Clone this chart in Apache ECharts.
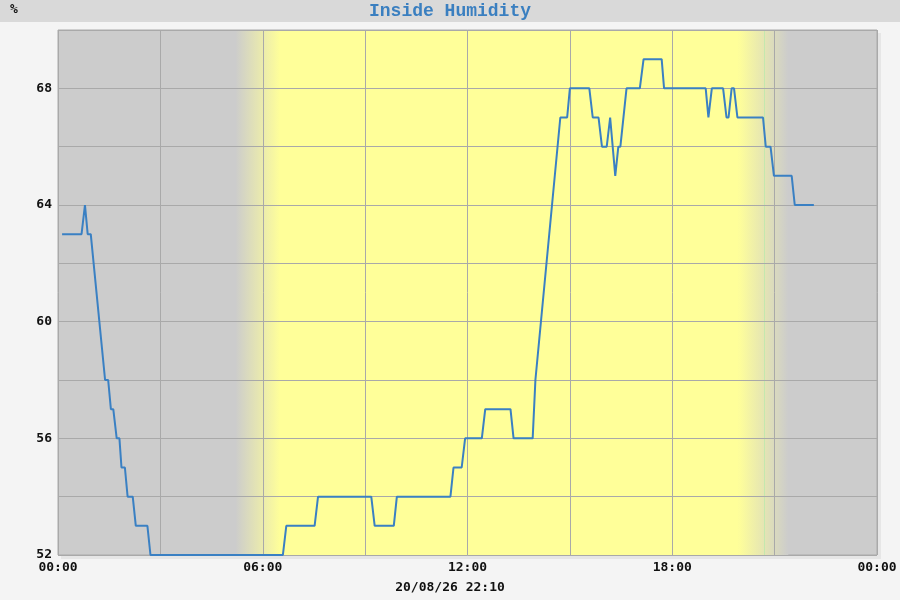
<!DOCTYPE html>
<html>
<head>
<meta charset="utf-8">
<script src="https://cdn.jsdelivr.net/npm/echarts@6/dist/echarts.min.js"></script>
<style>
html,body{margin:0;padding:0;background:#f4f4f4;}
#chart{width:900px;height:600px;}
</style>
</head>
<body>
<div id="chart"></div>
<script>
// time of day in hours
var times = [0.12, 0.69, 0.79, 0.87, 0.96, 1.38, 1.47, 1.55, 1.62, 1.72, 1.80, 1.86, 1.96, 2.04, 2.19, 2.28, 2.62, 2.71,
  6.59, 6.69, 7.52, 7.62, 9.18, 9.28, 9.84, 9.93, 11.50, 11.59, 11.83, 11.93, 12.42, 12.52, 13.26, 13.35, 13.91, 13.99,
  14.72, 14.92, 15.00, 15.57, 15.67, 15.84, 15.94, 16.08, 16.18, 16.33, 16.42, 16.48, 16.66, 17.05, 17.16, 17.69, 17.76,
  18.98, 19.06, 19.16, 19.49, 19.59, 19.65, 19.74, 19.81, 19.91, 20.66, 20.74, 20.88, 20.98, 21.50, 21.59, 22.15];
// humidity in %
var humidity = [63, 63, 64, 63, 63, 58, 58, 57, 57, 56, 56, 55, 55, 54, 54, 53, 53, 52,
  52, 53, 53, 54, 54, 53, 53, 54, 54, 55, 55, 56, 56, 57, 57, 56, 56, 58,
  67, 67, 68, 68, 67, 67, 66, 66, 67, 65, 66, 66, 68, 68, 69, 69, 68,
  68, 67, 68, 68, 67, 67, 68, 68, 67, 67, 66, 66, 65, 65, 64, 64];
// daylight band (hours): fade-in start, full day start, full day end, fade-out end
var dawnStart = 5.2, dayStart = 6.5, dayEnd = 19.95, duskEnd = 21.4;
var sunsetLine = 20.71;
var titleText = 'Inside Humidity';
var unitText = '%';
var footerText = '20/08/26 22:10';

var GRAY = '#cccccc', YELLOW = '#ffff99';
var seriesData = times.map(function (t, i) { return [t, humidity[i]]; });
function pad(n) { return (n < 10 ? '0' : '') + n; }

var chart = echarts.init(document.getElementById('chart'));
chart.setOption({
  backgroundColor: '#f4f4f4',
  animation: false,
  graphic: [
    { type: 'rect', left: 0, top: 0, shape: { width: 900, height: 22 }, style: { fill: '#d9d9d9' }, z: -10 },
    { type: 'rect', left: 61, top: 33, shape: { width: 820, height: 526 }, style: { fill: '#e6e6e6' }, z: -10 },
    { type: 'text', left: 10, top: 3, style: { text: unitText, font: 'bold 13px "DejaVu Sans Mono"', fill: '#111' } },
    { type: 'text', left: 'center', top: 2, style: { text: titleText, font: 'bold 18px "Liberation Mono"', fill: '#3a7fc0' } },
    { type: 'text', left: 'center', top: 581, style: { text: footerText, font: 'bold 13px "DejaVu Sans Mono"', fill: '#111' } }
  ],
  grid: {
    left: 58, right: 23, top: 30, bottom: 45,
    show: true, backgroundColor: GRAY, borderColor: '#aaaaaa', borderWidth: 1
  },
  xAxis: {
    type: 'value', min: 0, max: 24, interval: 3, z: 3,
    axisLine: { show: false }, axisTick: { show: false },
    splitLine: { show: true, lineStyle: { color: '#a9a9a9', width: 1 } },
    axisLabel: {
      margin: 6, color: '#111', fontFamily: 'DejaVu Sans Mono', fontWeight: 'bold', fontSize: 13,
      showMaxLabel: true, showMinLabel: true,
      formatter: function (v) { return v % 6 === 0 ? pad(v % 24) + ':00' : ''; }
    }
  },
  yAxis: {
    type: 'value', min: 52, max: 70, interval: 2, z: 3,
    axisLine: { show: false }, axisTick: { show: false },
    splitLine: { show: true, lineStyle: { color: '#a9a9a9', width: 1 } },
    axisLabel: {
      margin: 6, color: '#111', fontFamily: 'DejaVu Sans Mono', fontWeight: 'bold', fontSize: 13,
      formatter: function (v) { return ((v - 52) % 4 === 0 && v < 70) ? String(v) : ''; }
    }
  },
  series: [
    {
      type: 'line', data: [], silent: true, z: 1,
      markArea: {
        silent: true, z: 1,
        data: [
          [{ xAxis: dawnStart, itemStyle: { color: { type: 'linear', x: 0, y: 0, x2: 1, y2: 0,
              colorStops: [{ offset: 0, color: GRAY }, { offset: 1, color: YELLOW }] } } }, { xAxis: dayStart + 0.02 }],
          [{ xAxis: dayStart, itemStyle: { color: YELLOW } }, { xAxis: dayEnd }],
          [{ xAxis: dayEnd - 0.02, itemStyle: { color: { type: 'linear', x: 0, y: 0, x2: 1, y2: 0,
              colorStops: [{ offset: 0, color: YELLOW }, { offset: 1, color: GRAY }] } } }, { xAxis: duskEnd }]
        ]
      },
      markLine: {
        silent: true, symbol: 'none', label: { show: false }, z: 1,
        lineStyle: { color: 'rgba(170,235,170,0.55)', width: 1, type: 'solid' },
        data: [{ xAxis: sunsetLine }]
      }
    },
    {
      type: 'line', data: seriesData, z: 10, symbol: 'none', smooth: false,
      lineStyle: { color: '#3a80c3', width: 2 }, itemStyle: { color: '#3a80c3' }
    }
  ]
});
</script>
</body>
</html>
